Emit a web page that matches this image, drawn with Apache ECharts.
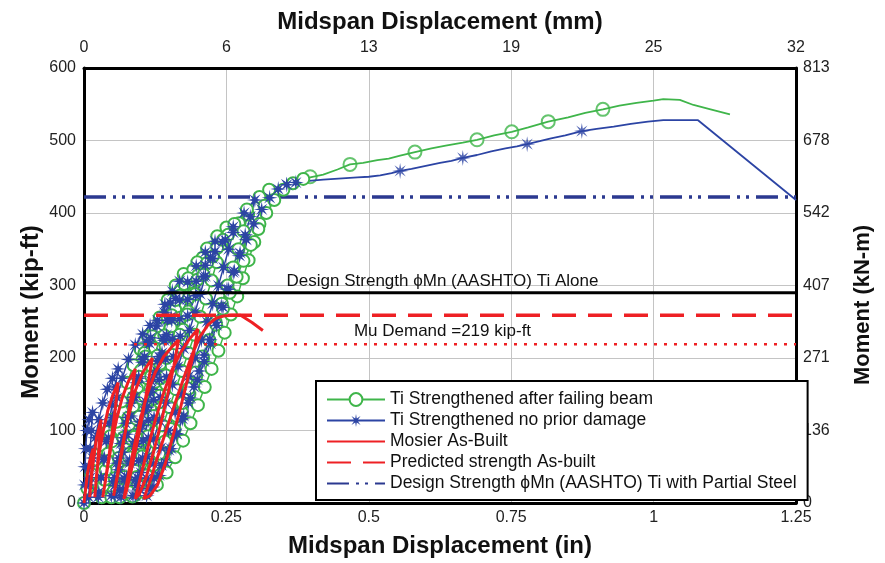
<!DOCTYPE html>
<html>
<head>
<meta charset="utf-8">
<script src="https://cdn.jsdelivr.net/npm/echarts@6/dist/echarts.min.js"></script>
<style>
  html, body { margin: 0; padding: 0; background: #fff; }
  #chart { width: 885px; height: 563px; }
</style>
</head>
<body>
<div id="chart"></div>
<script>
// tick labels
const bottomTicks = ['0', '0.25', '0.5', '0.75', '1', '1.25']
const topTicks = ['0', '6', '13', '19', '25', '32']
const rightTicks = ['0', '136', '271', '407', '542', '678', '813']

// reference lines (kip-ft)
const tiAlone = 290
const predicted = 259
const muDemand = 219
const partialSteel = 422

// Ti strengthened after failing beam: cyclic part [in, kip-ft]
const greenLoop = [
  [0,0],[0.006,20],[0.013,40],[0.021,60],[0.03,80],[0.04,98],[0.05,115],
  [0.046,92],[0.042,68],[0.038,45],[0.034,24],[0.031,8],
  [0.036,32],[0.042,58],[0.049,85],[0.057,112],[0.066,140],[0.076,166],[0.087,190],[0.099,212],[0.112,230],
  [0.106,207],[0.1,183],[0.093,158],[0.086,133],[0.079,108],[0.072,83],[0.065,58],[0.058,35],[0.052,16],[0.048,8],
  [0.054,34],[0.061,62],[0.069,90],[0.078,118],[0.087,146],[0.097,174],[0.108,202],[0.12,230],[0.133,256],[0.147,280],[0.161,300],[0.175,316],
  [0.168,292],[0.16,267],[0.152,242],[0.143,217],[0.134,192],[0.125,167],[0.116,142],[0.106,117],[0.096,92],[0.086,68],[0.077,45],[0.069,25],[0.064,10],
  [0.068,34],[0.075,60],[0.083,88],[0.092,116],[0.101,144],[0.111,172],[0.122,200],[0.134,228],[0.147,255],[0.161,280],[0.176,302],[0.192,322],[0.208,338],
  [0.2,314],[0.192,289],[0.183,264],[0.174,239],[0.164,214],[0.154,189],[0.144,164],[0.133,139],[0.122,114],[0.111,90],[0.1,67],[0.089,45],[0.079,26],[0.07,12],
  [0.071,36],[0.079,63],[0.088,91],[0.097,119],[0.107,147],[0.118,175],[0.129,203],[0.141,231],[0.154,259],[0.168,286],[0.183,310],[0.199,332],[0.216,351],[0.234,368],[0.25,380],
  [0.242,357],[0.233,332],[0.224,307],[0.214,282],[0.204,257],[0.194,232],[0.183,207],[0.172,182],[0.161,157],[0.15,132],[0.138,107],[0.126,83],[0.114,60],[0.103,40],[0.093,22],[0.085,10],
  [0.089,34],[0.096,60],[0.104,88],[0.113,116],[0.123,144],[0.134,172],[0.145,200],[0.157,228],[0.17,256],[0.184,283],[0.199,308],[0.216,331],[0.234,352],[0.253,370],[0.272,386],[0.288,398],
  [0.28,375],[0.271,350],[0.262,325],[0.252,300],[0.242,275],[0.231,250],[0.22,225],[0.209,200],[0.197,175],[0.185,150],[0.172,125],[0.159,101],[0.145,78],[0.131,56],[0.117,37],[0.102,20],[0.09,11],
  [0.093,36],[0.102,64],[0.112,92],[0.122,120],[0.133,148],[0.144,176],[0.156,204],[0.168,232],[0.181,260],[0.195,288],[0.21,315],[0.226,340],[0.244,363],[0.264,385],[0.286,405],[0.308,422],[0.325,432],
  [0.317,410],[0.308,385],[0.299,360],[0.289,335],[0.279,310],[0.269,285],[0.258,260],[0.247,235],[0.236,210],[0.224,185],[0.212,160],[0.2,135],[0.187,110],[0.174,86],[0.16,63],[0.145,42],[0.128,25],[0.108,14],[0.085,9],[0.063,8],
  [0.08,15],[0.095,25],[0.11,38],[0.122,52],[0.132,68],[0.142,85],[0.152,102],[0.162,120],[0.173,138],[0.184,158],[0.196,180],[0.208,202],[0.22,224],[0.232,246],[0.244,268],[0.256,290],[0.268,312],[0.28,334],[0.293,356],[0.306,378],[0.32,400],[0.334,418],[0.35,432],[0.367,441],[0.385,447]
]
const greenTail = [
  [0.385,447],[0.397,449],[0.42,453],[0.445,460],[0.467,467],[0.49,469],[0.515,473],[0.535,475],[0.555,479],[0.581,484],[0.61,489],[0.635,493],
  [0.665,497],[0.69,501],[0.72,507],[0.751,512],[0.78,518],[0.815,526],[0.85,532],[0.88,538],[0.911,543],[0.94,548],[0.97,552],
  [1.0,555],[1.017,557],[1.046,556],[1.07,549],[1.1,543],[1.134,536]
]
const greenMarks = [[0.397,450],[0.467,467],[0.581,484],[0.69,501],[0.751,512],[0.815,526],[0.911,543]]

// Ti strengthened no prior damage
const blueLoop = [
  [0,0],[0.001,25],[0.002,50],[0.003,75],[0.005,100],[0.009,115],[0.015,125],
  [0.013,100],[0.011,75],[0.01,50],[0.009,25],[0.008,8],
  [0.011,35],[0.015,62],[0.02,90],[0.026,115],[0.033,138],[0.041,157],[0.05,172],[0.06,185],
  [0.055,160],[0.049,135],[0.044,110],[0.039,85],[0.034,60],[0.03,35],[0.026,15],[0.025,8],
  [0.03,35],[0.036,62],[0.043,90],[0.05,118],[0.058,145],[0.067,172],[0.078,198],[0.09,218],[0.103,233],[0.116,245],
  [0.11,222],[0.103,198],[0.096,172],[0.089,146],[0.082,120],[0.075,95],[0.068,70],[0.061,46],[0.054,24],[0.048,10],
  [0.052,30],[0.058,55],[0.065,82],[0.073,110],[0.082,138],[0.092,166],[0.103,194],[0.115,220],[0.128,244],[0.141,263],[0.152,276],
  [0.146,252],[0.139,227],[0.132,202],[0.124,177],[0.116,152],[0.107,127],[0.098,102],[0.089,78],[0.08,55],[0.071,34],[0.062,18],[0.054,10],
  [0.054,35],[0.061,62],[0.069,90],[0.077,118],[0.086,146],[0.096,174],[0.106,202],[0.117,228],[0.129,252],[0.142,274],[0.155,292],[0.168,306],
  [0.161,282],[0.153,257],[0.145,232],[0.137,207],[0.128,182],[0.119,157],[0.11,132],[0.101,107],[0.092,82],[0.083,58],[0.075,36],[0.069,18],[0.065,8],
  [0.072,32],[0.08,58],[0.089,85],[0.098,112],[0.108,140],[0.118,168],[0.129,196],[0.141,224],[0.154,252],[0.168,280],[0.182,305],[0.197,327],[0.213,346],[0.23,361],
  [0.222,338],[0.213,313],[0.204,288],[0.195,263],[0.185,238],[0.175,213],[0.165,188],[0.155,163],[0.144,138],[0.133,113],[0.122,88],[0.111,64],[0.1,42],[0.092,24],[0.086,10],
  [0.09,32],[0.096,58],[0.104,86],[0.113,114],[0.122,142],[0.132,170],[0.143,198],[0.155,226],[0.168,254],[0.182,281],[0.197,306],[0.213,328],[0.23,347],[0.248,363],[0.262,373],
  [0.254,350],[0.245,325],[0.236,300],[0.226,275],[0.216,250],[0.206,225],[0.195,200],[0.184,175],[0.172,150],[0.16,125],[0.148,100],[0.135,76],[0.122,54],[0.11,34],[0.098,18],[0.09,10],
  [0.094,35],[0.103,62],[0.113,90],[0.123,118],[0.134,146],[0.145,174],[0.157,202],[0.169,230],[0.182,258],[0.196,286],[0.21,312],[0.226,337],[0.243,360],[0.262,381],[0.281,400],[0.3,418],
  [0.292,395],[0.283,370],[0.274,345],[0.264,320],[0.254,295],[0.244,270],[0.233,245],[0.222,220],[0.211,195],[0.199,170],[0.187,145],[0.175,120],[0.162,96],[0.149,73],[0.136,52],[0.123,34],[0.114,20],[0.11,10],
  [0.121,22],[0.132,38],[0.143,56],[0.153,75],[0.163,95],[0.173,116],[0.183,138],[0.193,160],[0.202,182],[0.211,204],[0.221,226],[0.231,249],[0.241,272],[0.251,295],[0.262,318],[0.273,341],[0.285,363],[0.298,385],[0.312,405],[0.326,421],[0.341,433],[0.356,439],[0.372,442]
]
const blueTail = [
  [0.372,442],[0.39,444],[0.405,445],[0.42,446],[0.44,447],[0.46,448],[0.48,449],[0.5,450],[0.52,452],[0.54,455],[0.555,458],[0.575,461],[0.6,465],
  [0.625,469],[0.645,472],[0.665,476],[0.69,480],[0.715,485],[0.74,489],[0.76,492],[0.778,495],[0.8,499],[0.82,503],[0.845,507],[0.874,513],
  [0.9,516],[0.93,519],[0.96,523],[0.99,526],[1.017,528],[1.05,528],[1.078,528],[1.25,418]
]
const blueMarks = [[0.356,439],[0.555,458],[0.665,476],[0.778,495],[0.874,513]]

// Mosier as-built
const redLoop = [
  [0,0],[0.003,20],[0.006,40],[0.01,58],[0.016,75],[0.014,50],[0.012,25],[0.01,8],
  [0.013,35],[0.017,62],[0.022,90],[0.03,115],[0.027,85],[0.024,55],[0.021,28],[0.019,8],
  [0.022,38],[0.027,70],[0.034,100],[0.042,128],[0.051,150],[0.06,166],[0.055,130],[0.049,95],[0.043,60],[0.037,28],[0.033,8],
  [0.04,42],[0.048,80],[0.057,115],[0.067,145],[0.078,168],[0.09,185],[0.083,148],[0.075,110],[0.067,72],[0.059,38],[0.052,10],
  [0.06,45],[0.069,85],[0.079,122],[0.09,155],[0.103,180],[0.12,200],[0.112,162],[0.103,122],[0.093,82],[0.083,45],[0.074,15],[0.07,6],
  [0.078,40],[0.088,78],[0.099,116],[0.111,150],[0.125,180],[0.14,202],[0.155,216],[0.166,225],[0.158,190],[0.147,150],[0.135,110],[0.122,70],[0.109,35],[0.097,12],[0.09,6],
  [0.1,38],[0.112,76],[0.125,114],[0.139,150],[0.154,183],[0.17,208],[0.185,226],[0.2,240],[0.192,205],[0.181,168],[0.169,130],[0.156,92],[0.143,55],[0.129,25],[0.116,10],[0.105,6],
  [0.118,35],[0.131,68],[0.145,102],[0.16,138],[0.175,172],[0.19,205],[0.204,230],[0.218,246],[0.232,255],[0.245,258],[0.26,259],[0.275,259],[0.295,249],[0.314,238]
]

const GREEN = '#3fb54a'
const BLUE = '#2c44a4'
const RED = '#ee2024'
const DASHBLUE = '#2b3990'
const FONT = 'Liberation Sans, Arial, sans-serif'
const STAR = 'path://M10,5L6.48,5.61L8.54,8.54L5.61,6.48L5,10L4.39,6.48L1.46,8.54L3.52,5.61L0,5L3.52,4.39L1.46,1.46L4.39,3.52L5,0L5.61,3.52L8.54,1.46L6.48,4.39Z'

const chart = echarts.init(document.getElementById('chart'))

function hLine(v) {
  return [[0, v], [1.25, v]]
}

const axisLine = { show: true, onZero: false, lineStyle: { color: '#000', width: 3 } }
const splitLine = { show: true, lineStyle: { color: '#c4c4c4', width: 1 } }
const labelStyle = { color: '#222', fontFamily: FONT, fontSize: 16 }
const nameH = { color: '#111', fontFamily: FONT, fontSize: 24, fontWeight: 'bold' }
const noIcon = { opacity: 0 }

chart.setOption({
  animation: false,
  backgroundColor: '#fff',
  grid: { left: 84, right: 89, top: 68, bottom: 58 },
  xAxis: [
    {
      type: 'value', position: 'bottom', min: 0, max: 1.25, interval: 0.25,
      axisLine, splitLine, axisTick: { show: false },
      axisLabel: { ...labelStyle, margin: 7, formatter: (v) => bottomTicks[Math.round(v / 0.25)] },
      name: 'Midspan Displacement (in)', nameLocation: 'middle', nameGap: 31, nameTextStyle: nameH
    },
    {
      type: 'value', position: 'top', min: 0, max: 1.25, interval: 0.25,
      axisLine, splitLine: { show: false }, axisTick: { show: false },
      axisLabel: { ...labelStyle, margin: 12, formatter: (v) => topTicks[Math.round(v / 0.25)] },
      name: 'Midspan Displacement (mm)', nameLocation: 'middle', nameGap: 34, nameTextStyle: nameH
    }
  ],
  yAxis: [
    {
      type: 'value', position: 'left', min: 0, max: 600, interval: 100,
      axisLine, splitLine, axisTick: { show: false },
      axisLabel: { ...labelStyle, margin: 8 }
    },
    {
      type: 'value', position: 'right', min: 0, max: 600, interval: 100,
      axisLine, splitLine: { show: false }, axisTick: { show: false },
      axisLabel: { ...labelStyle, margin: 7, formatter: (v) => rightTicks[Math.round(v / 100)] }
    }
  ],
  legend: {
    orient: 'vertical', left: 316, top: 381,
    padding: [8, 11, 6, 10], itemGap: 0, itemWidth: 58, itemHeight: 16,
    backgroundColor: '#fff', borderColor: '#000', borderWidth: 2,
    selectedMode: false,
    textStyle: { color: '#111', fontFamily: FONT, fontSize: 17.5, lineHeight: 21 },
    data: [
      { name: 'Ti Strengthened after failing beam' },
      { name: 'Ti Strengthened no prior damage' },
      { name: 'Mosier As-Built', itemStyle: noIcon },
      { name: 'Predicted strength As-built', itemStyle: noIcon },
      { name: 'Design Strength \u03d5Mn (AASHTO) Ti with Partial Steel', itemStyle: noIcon }
    ]
  },
  graphic: [
    {
      type: 'text', left: 'center', top: 273, z: 10,
      style: { text: 'Design Strength \u03d5Mn (AASHTO) Ti Alone', fill: '#111', font: '17px ' + FONT }
    },
    {
      type: 'text', left: 'center', top: 323, z: 10,
      style: { text: 'Mu Demand =219 kip-ft', fill: '#111', font: '17px ' + FONT }
    },
    {
      type: 'text', x: 31, y: 312, rotation: Math.PI / 2, z: 10,
      style: { text: 'Moment (kip-ft)', fill: '#111', font: 'bold 24px ' + FONT, align: 'center', verticalAlign: 'middle' }
    },
    {
      type: 'text', x: 863, y: 305, rotation: Math.PI / 2, z: 10,
      style: { text: 'Moment (kN-m)', fill: '#111', font: 'bold 22px ' + FONT, align: 'center', verticalAlign: 'middle' }
    }
  ],
  series: [
    {
      name: 'Ti Strengthened after failing beam', type: 'line', data: greenLoop,
      symbol: 'emptyCircle', symbolSize: 12, showAllSymbol: true,
      lineStyle: { color: GREEN, width: 1.5 }, itemStyle: { color: GREEN, borderWidth: 1.8 }
    },
    {
      name: 'greenTail', type: 'line', data: greenTail, symbol: 'none',
      lineStyle: { color: GREEN, width: 1.8 }
    },
    {
      name: 'greenMarks', type: 'scatter', data: greenMarks, symbol: 'emptyCircle', symbolSize: 13,
      itemStyle: { color: GREEN, borderWidth: 1.8 }
    },
    {
      name: 'Ti Strengthened no prior damage', type: 'line', data: blueLoop,
      symbol: STAR, symbolSize: 16, showAllSymbol: true,
      lineStyle: { color: BLUE, width: 1.5 }, itemStyle: { color: BLUE }
    },
    {
      name: 'blueTail', type: 'line', data: blueTail, symbol: 'none',
      lineStyle: { color: BLUE, width: 1.8 }
    },
    {
      name: 'blueMarks', type: 'scatter', data: blueMarks, symbol: STAR, symbolSize: 16,
      itemStyle: { color: BLUE }
    },
    {
      name: 'Mosier As-Built', type: 'line', data: redLoop, symbol: 'none', z: 5,
      lineStyle: { color: RED, width: 3 }, itemStyle: { color: RED }
    },
    {
      name: 'Ti Alone', type: 'line', data: hLine(tiAlone), symbol: 'none', z: 4,
      lineStyle: { color: '#000', width: 3 }
    },
    {
      name: 'Predicted strength As-built', type: 'line', data: hLine(predicted), symbol: 'none', z: 4,
      lineStyle: { color: RED, width: 3.5, type: [24, 12] }, itemStyle: { color: RED }
    },
    {
      name: 'Mu Demand', type: 'line', data: hLine(muDemand), symbol: 'none', z: 4,
      lineStyle: { color: RED, width: 2.5, type: [3, 7] }
    },
    {
      name: 'Design Strength \u03d5Mn (AASHTO) Ti with Partial Steel', type: 'line', data: hLine(partialSteel), symbol: 'none',
      lineStyle: { color: DASHBLUE, width: 3.5, type: [22, 7, 3, 6, 3, 7] }, itemStyle: { color: DASHBLUE }
    }
  ]
})
</script>
</body>
</html>
